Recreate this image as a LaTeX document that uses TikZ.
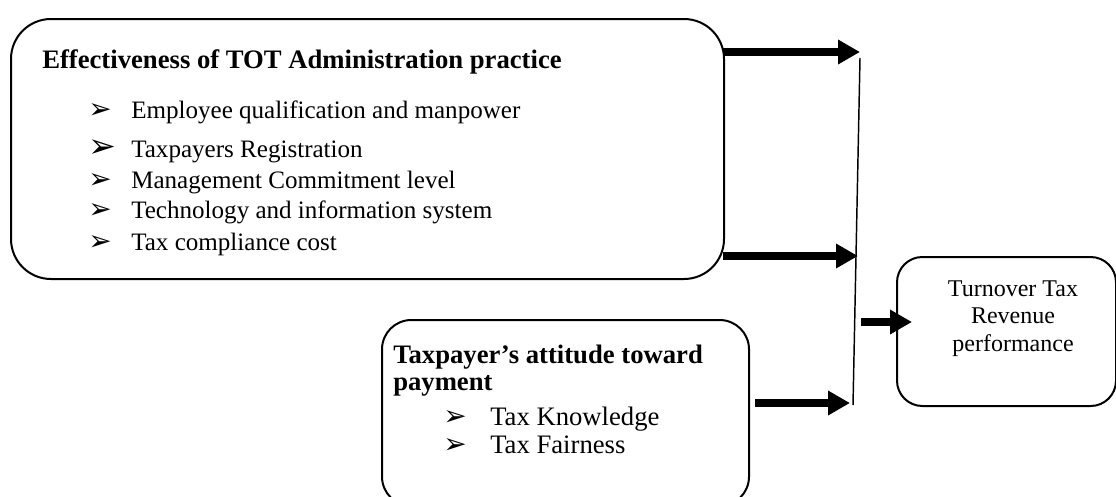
\documentclass[tikz,border=0pt]{standalone}
\usepackage{fontspec}
\setmainfont{Liberation Serif}
\newfontfamily\dingfont{DejaVu Sans}
\usetikzlibrary{arrows.meta}

\newcommand{\arrbullet}{{\dingfont\char"27A2}}

\tikzset{
  frame/.style={draw, line width=1.5pt, rounded corners=#1, inner sep=0pt, anchor=north west},
  txt/.style={anchor=base west, inner sep=0pt},
  head/.style={txt, font=\fontsize{20}{22}\selectfont\bfseries},
  item/.style={txt, font=\fontsize{18.8}{20}\selectfont},
  fat/.style={line width=6pt, -{Triangle[length=16.5pt,width=17.5pt]}, shorten >=0pt},
}

\begin{document}
\begin{tikzpicture}[x=0.75pt,y=0.75pt,yscale=-1]
\useasboundingbox (0,0) rectangle (1116,496);
\clip (0,0) rectangle (1116,496);

%Boxes
\node[frame=30pt, minimum width=534.75pt, minimum height=195pt] (eff) at (10,18) {};
\node[frame=22pt, minimum width=275.25pt, minimum height=139.5pt] (att) at (381,319) {};
\node[frame=19pt, minimum width=164.25pt, minimum height=111.75pt] (out) at (896,256) {};

% Text of the first box
\node[head] (title) at (42,68) {Effectiveness of TOT Administration practice};
\node[item] (emp) at (88,118) {\makebox[32.25pt][l]{\fontsize{21}{21}\selectfont\arrbullet}Employee qualification and manpower};
\node[item] (reg) at (88,157) {\makebox[32.25pt][l]{\fontsize{25}{25}\selectfont\arrbullet}Taxpayers Registration};
\node[item] (mgt) at (88,188) {\makebox[32.25pt][l]{\fontsize{21}{21}\selectfont\arrbullet}Management Commitment level};
\node[item] (tech) at (88,218) {\makebox[32.25pt][l]{\fontsize{21}{21}\selectfont\arrbullet}Technology and information system};
\node[item] (cost) at (88,250) {\makebox[32.25pt][l]{\fontsize{21}{21}\selectfont\arrbullet}Tax compliance cost};

% Text of the second box
\node[head] (att1) at (393,363) {Taxpayer’s attitude toward};
\node[head] (att2) at (393,390) {payment};
\node[item, font=\fontsize{20}{22}\selectfont] (know) at (443,425) {\makebox[35.25pt][l]{\fontsize{21}{21}\selectfont\arrbullet}Tax Knowledge};
\node[item, font=\fontsize{20}{22}\selectfont] (fair) at (443,453) {\makebox[35.25pt][l]{\fontsize{21}{21}\selectfont\arrbullet}Tax Fairness};

% Text of the result box
\node[anchor=base, inner sep=0pt, font=\fontsize{18}{20}\selectfont] (perf1) at (1013,296) {Turnover Tax};
\node[anchor=base, inner sep=0pt, font=\fontsize{18}{20}\selectfont] (perf2) at (1013,323) {Revenue};
\node[anchor=base, inner sep=0pt, font=\fontsize{18}{20}\selectfont] (perf3) at (1013,351) {performance};

% Joining line and arrows
\coordinate (jtop) at (860,58);
\coordinate (jbot) at (853,405);
\coordinate (a1s) at (723,52);
\coordinate (a1e) at (860,52);
\coordinate (a2s) at (723,256);
\coordinate (a2e) at (858,256);
\coordinate (a3s) at (755,403);
\coordinate (a3e) at (850,403);
\coordinate (a4s) at (861,322);
\coordinate (a4e) at (912,322);

\draw[line width=1.1pt] (jtop) -- (jbot);
\draw[fat] (a1s) -- (a1e);
\draw[fat] (a2s) -- (a2e);
\draw[fat] (a3s) -- (a3e);
\draw[fat] (a4s) -- (a4e);

\end{tikzpicture}
\end{document}
